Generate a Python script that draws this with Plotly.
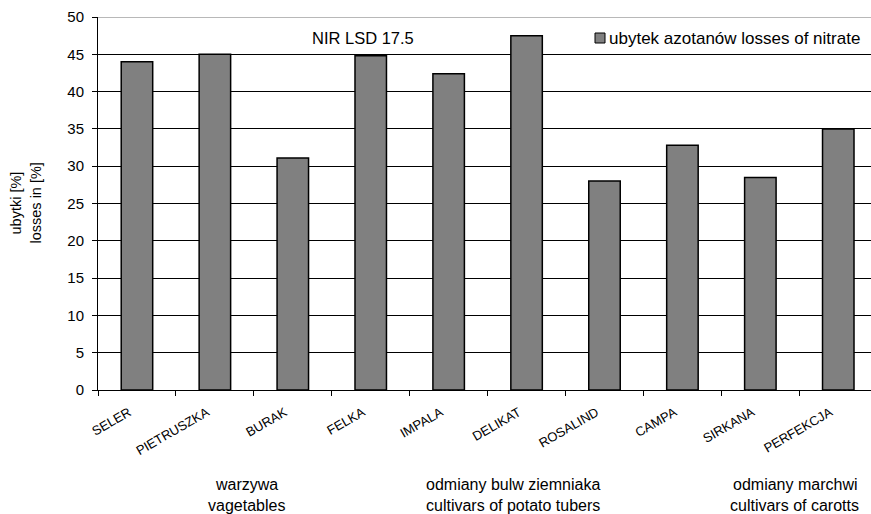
import plotly.graph_objects as go

categories = ["SELER", "PIETRUSZKA", "BURAK", "FELKA", "IMPALA", "DELIKAT",
              "ROSALIND", "CAMPA", "SIRKANA", "PERFEKCJA"]
losses = [44.0, 45.0, 31.1, 44.8, 42.4, 47.5, 28.0, 32.8, 28.5, 35.0]
series_name = "ubytek azotanów losses of nitrate"
group_line1 = ["warzywa", "odmiany bulw ziemniaka", "odmiany marchwi"]
group_line2 = ["vagetables", "cultivars of potato tubers", "cultivars of carotts"]
group_pos = [1.4, 4.82, 8.44]
y_ticks = [0, 5, 10, 15, 20, 25, 30, 35, 40, 45, 50]

FONT = "Liberation Sans, Arial, sans-serif"
L, T, W, H = 98, 17, 871, 514
B0 = 390              # pixel row of the x axis
PW = W - L            # plot width in px
PH = B0 - T           # plot height in px


def px_x(x):
    return (x - L) / PW


def px_y(y):
    return (B0 - y) / PH


fig = go.Figure()
fig.add_trace(go.Bar(
    x=categories, y=losses, name=series_name, showlegend=False,
    hoverinfo="skip",
    marker=dict(color="#808080", line=dict(color="black", width=1.5)),
))

fig.update_layout(
    width=W, height=H,
    margin=dict(l=L, r=0, t=T, b=H - B0, pad=0, autoexpand=False),
    paper_bgcolor="white", plot_bgcolor="white",
    font=dict(family=FONT, color="black"),
    bargap=0.596,
    showlegend=False,
    xaxis=dict(
        range=[-0.5, 9.42], showgrid=False, showline=True, linecolor="black",
        linewidth=1, ticks="outside", ticklen=5, tickcolor="black",
        tickson="boundaries", tickangle=-30, automargin=False,
        ticklabelshift=-8, ticklabelstandoff=9,
        tickfont=dict(size=13, family=FONT),
    ),
    yaxis=dict(
        range=[0, 50], tickvals=y_ticks, showgrid=True, gridcolor="black",
        gridwidth=1, showline=True, linecolor="black", linewidth=1,
        ticks="outside", ticklen=5, tickcolor="black", automargin=False,
        ticklabelstandoff=5,
        tickfont=dict(size=15, family=FONT), zeroline=False,
    ),
)

# gray top border at 50
fig.add_shape(type="line", xref="paper", yref="y", x0=0, x1=1, y0=50, y1=50,
              line=dict(color="#a0a0a0", width=1.5))

# manual legend: swatch + text
fig.add_shape(type="rect", xref="paper", yref="paper",
              x0=px_x(595), x1=px_x(605), y0=px_y(43), y1=px_y(33),
              fillcolor="#808080", line=dict(color="black", width=1))
fig.add_annotation(x=px_x(607), xref="paper", xanchor="left",
                   y=px_y(38), yref="paper", yanchor="middle",
                   text=series_name, showarrow=False,
                   font=dict(size=17, family=FONT))

# NIR annotation
fig.add_annotation(x=px_x(363), xref="paper", y=px_y(38), yref="paper",
                   yanchor="middle", text="NIR LSD 17.5", showarrow=False,
                   font=dict(size=16.5, family=FONT))

# y-axis title (two lines)
fig.add_annotation(x=px_x(15), xref="paper", xanchor="center",
                   y=0.5, yref="paper", yanchor="middle",
                   text="ubytki [%]", textangle=-90,
                   showarrow=False, font=dict(size=14.5, family=FONT))
fig.add_annotation(x=px_x(35), xref="paper", xanchor="center",
                   y=0.5, yref="paper", yanchor="middle",
                   text="losses in [%]", textangle=-90,
                   showarrow=False, font=dict(size=14.5, family=FONT))

# group labels
for pos, l1, l2 in zip(group_pos, group_line1, group_line2):
    fig.add_annotation(x=pos, xref="x", y=px_y(484), yref="paper",
                       yanchor="middle", text=l1, showarrow=False,
                       font=dict(size=16, family=FONT))
    fig.add_annotation(x=pos, xref="x", y=px_y(505), yref="paper",
                       yanchor="middle", text=l2, showarrow=False,
                       font=dict(size=16, family=FONT))

fig.write_html("out.html",
               config={"displayModeBar": False},
               post_script="document.body.style.margin='0px';"
                           "document.body.style.overflow='hidden';")
